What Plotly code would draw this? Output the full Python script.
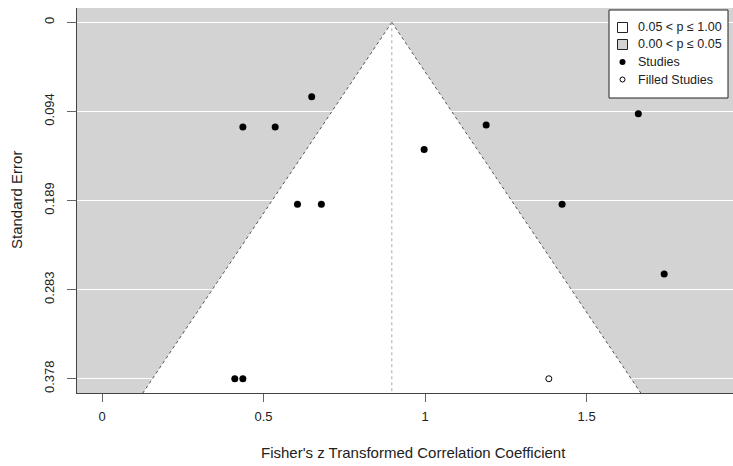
import plotly.graph_objects as go

# Observed studies: Fisher's z and their standard errors
study_z = [0.436, 0.536, 0.649, 0.605, 0.679, 0.997, 1.189, 1.424, 1.660, 1.740, 0.411, 0.436]
study_se = [0.111, 0.111, 0.079, 0.193, 0.193, 0.135, 0.109, 0.193, 0.097, 0.267, 0.378, 0.378]

# Imputed (trim-and-fill) study
filled_z = [1.383]
filled_se = [0.378]

# Pooled estimate at the centre of the funnel
pooled_z = 0.897

# Axis ticks
se_ticks = [0, 0.0945, 0.189, 0.2835, 0.378]
se_tick_labels = ["0", "0.094", "0.189", "0.283", "0.378"]
z_ticks = [0, 0.5, 1, 1.5]
z_tick_labels = ["0", "0.5", "1", "1.5"]

legend_labels = ["0.05 < p \u2264 1.00", "0.00 < p \u2264 0.05", "Studies", "Filled Studies"]

W, H = 733, 466
ML, MR, MT, MB = 77, 0, 8, 73
PW, PH = W - ML - MR, H - MT - MB

se_max = max(se_ticks)
se_lo, se_hi = -0.04 * se_max, 1.04 * se_max
z_lo, z_hi = -0.0774, 1.953

FONT = "Liberation Sans, Arial, sans-serif"
TXT = "#222222"
GRAY = "#d3d3d3"


def px_x(p):
    return (p - ML) / PW


def px_y(p):
    return 1 - (p - MT) / PH


fig = go.Figure()

# white pseudo-confidence region (p > 0.05)
half = 1.96 * se_hi
shapes = [
    dict(type="path", xref="x", yref="y", layer="below",
         path=f"M {pooled_z} 0 L {pooled_z - half} {se_hi} L {pooled_z + half} {se_hi} Z",
         fillcolor="white", line=dict(width=0)),
    dict(type="line", xref="x", yref="y", layer="between",
         x0=pooled_z, y0=0, x1=pooled_z - half, y1=se_hi,
         line=dict(color="#555555", width=1, dash="dot")),
    dict(type="line", xref="x", yref="y", layer="between",
         x0=pooled_z, y0=0, x1=pooled_z + half, y1=se_hi,
         line=dict(color="#555555", width=1, dash="dot")),
    dict(type="line", xref="x", yref="y", layer="between",
         x0=pooled_z, y0=0, x1=pooled_z, y1=se_hi,
         line=dict(color="#aaaaaa", width=1, dash="dot")),
]

fig.add_trace(go.Scatter(
    x=study_z, y=study_se, mode="markers", name="Studies",
    marker=dict(color="black", size=7, line=dict(width=0)),
    showlegend=False, hoverinfo="x+y"))
fig.add_trace(go.Scatter(
    x=filled_z, y=filled_se, mode="markers", name="Filled Studies",
    marker=dict(color="white", size=6, line=dict(color="black", width=1)),
    showlegend=False, hoverinfo="x+y"))

# legend box
shapes.append(dict(type="rect", xref="paper", yref="paper", layer="above",
                   x0=px_x(609), x1=px_x(728), y0=px_y(98), y1=px_y(10),
                   fillcolor="white", line=dict(color="#222222", width=1)))
rows = [27.5, 44.5, 62, 79.5]
sym_x = px_x(622.5)
for i, (fill, r) in enumerate([("white", 5), (GRAY, 5)]):
    shapes.append(dict(type="rect", xref="paper", yref="paper", layer="above",
                       xsizemode="pixel", ysizemode="pixel",
                       xanchor=sym_x, yanchor=px_y(rows[i]),
                       x0=-r, x1=r, y0=-r, y1=r,
                       fillcolor=fill, line=dict(color="#222222", width=1)))
shapes.append(dict(type="circle", xref="paper", yref="paper", layer="above",
                   xsizemode="pixel", ysizemode="pixel",
                   xanchor=sym_x, yanchor=px_y(rows[2]),
                   x0=-3, x1=3, y0=-3, y1=3,
                   fillcolor="black", line=dict(color="black", width=0)))
shapes.append(dict(type="circle", xref="paper", yref="paper", layer="above",
                   xsizemode="pixel", ysizemode="pixel",
                   xanchor=sym_x, yanchor=px_y(rows[3]),
                   x0=-2.5, x1=2.5, y0=-2.5, y1=2.5,
                   fillcolor="white", line=dict(color="black", width=1)))

annotations = []
for lab, r in zip(legend_labels, rows):
    annotations.append(dict(xref="paper", yref="paper", x=px_x(636), y=px_y(r),
                            xanchor="left", yanchor="middle", showarrow=False,
                            text=lab, font=dict(family=FONT, size=12.5, color=TXT)))

# axis titles
annotations.append(dict(xref="paper", yref="paper", x=px_x(413), y=px_y(452),
                        xanchor="center", yanchor="middle", showarrow=False,
                        text="Fisher's z Transformed Correlation Coefficient",
                        font=dict(family=FONT, size=15, color=TXT)))
annotations.append(dict(xref="paper", yref="paper", x=px_x(17), y=px_y(200),
                        xanchor="center", yanchor="middle", showarrow=False,
                        textangle=-90, text="Standard Error",
                        font=dict(family=FONT, size=15, color=TXT)))

fig.update_layout(
    width=W, height=H,
    margin=dict(l=ML, r=MR, t=MT, b=MB, pad=0),
    paper_bgcolor="white", plot_bgcolor=GRAY,
    font=dict(family=FONT, size=13, color=TXT),
    shapes=shapes, annotations=annotations,
    xaxis=dict(range=[z_lo, z_hi], tickvals=z_ticks, ticktext=z_tick_labels,
               showgrid=False, zeroline=False, showline=True,
               linecolor="#444444", linewidth=1,
               ticks="outside", ticklen=8, tickcolor="#666666",
               ticklabelstandoff=3,
               tickfont=dict(size=13, color=TXT)),
    yaxis=dict(range=[se_hi, se_lo], tickvals=se_ticks, ticktext=se_tick_labels,
               showgrid=True, gridcolor="white", gridwidth=1,
               zeroline=False, showline=True,
               linecolor="#444444", linewidth=1,
               ticks="outside", ticklen=9, tickcolor="#666666",
               ticklabelstandoff=8,
               tickangle=-90, tickfont=dict(size=13, color=TXT)),
    showlegend=False,
)

fig.write_html("out.html")
